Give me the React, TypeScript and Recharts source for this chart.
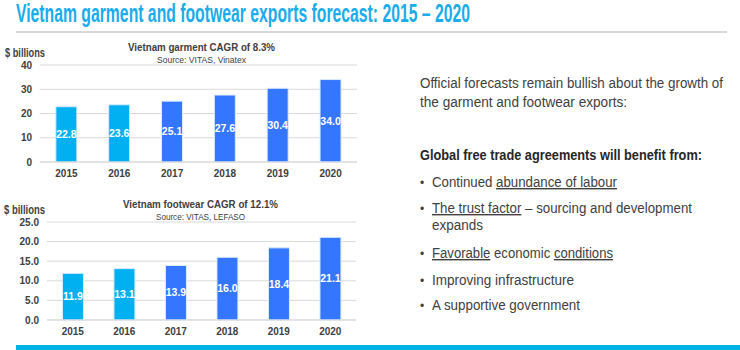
import React from "react";
import { Bar, BarChart, CartesianGrid, Cell, LabelList, XAxis, YAxis } from "recharts";

const years = ["2015", "2016", "2017", "2018", "2019", "2020"];
const garmentValues = [22.8, 23.6, 25.1, 27.6, 30.4, 34.0];
const footwearValues = [11.9, 13.1, 13.9, 16.0, 18.4, 21.1];
const garmentTicks = [0, 10, 20, 30, 40];
const footwearTicks = [0, 5, 10, 15, 20, 25];
const actualYears = ["2015", "2016"];

const CYAN = "#00B0F0";
const BLUE = "#3476FF";
const TEXT = "#404040";
const FONT = "'Liberation Sans', Arial, sans-serif";

const garmentData = years.map((year, i) => ({ year, value: garmentValues[i] }));
const footwearData = years.map((year, i) => ({ year, value: footwearValues[i] }));

const tickStyle = { fontSize: 10, fontWeight: 700, fill: TEXT, fontFamily: FONT };

function ExportChart({ data, ticks, top, height, margin, yWidth, decimals }) {
  const max = ticks[ticks.length - 1];
  return (
    <div style={{ position: "absolute", left: 0, top }}>
      <BarChart width={380} height={height} data={data} margin={margin} barCategoryGap="30%">
        <CartesianGrid vertical={false} stroke="#D9D9D9" />
        <XAxis dataKey="year" axisLine={{ stroke: "#D9D9D9" }} tickLine={false} tick={tickStyle} height={30} />
        <YAxis
          domain={[0, max]}
          ticks={ticks}
          width={yWidth}
          axisLine={false}
          tickLine={false}
          tick={tickStyle}
          tickFormatter={(v) => v.toFixed(decimals)}
          interval={0}
        />
        <Bar dataKey="value" isAnimationActive={false} stroke="#DDEBFF" strokeWidth={1}>
          {data.map((d) => (
            <Cell key={d.year} fill={actualYears.includes(d.year) ? CYAN : BLUE} />
          ))}
          <LabelList
            dataKey="value"
            position="center"
            formatter={(v) => v.toFixed(1)}
            style={{ fill: "#FFFFFF", fontSize: 10.5, fontWeight: 700, fontFamily: FONT }}
          />
        </Bar>
      </BarChart>
    </div>
  );
}

const bullets = [
  { y: 187, parts: [["Continued ", false], ["abundance of labour", true]], len: 185 },
  { y: 213, parts: [["The trust factor", true], [" \u2013 sourcing and development", false]], len: 260 },
  { y: 230, parts: [["expands", false]], len: 51, noBullet: true },
  { y: 258, parts: [["Favorable", true], [" economic ", false], ["conditions", true]], len: 181 },
  { y: 285, parts: [["Improving infrastructure", false]], len: 142 },
  { y: 310, parts: [["A supportive government", false]], len: 148 },
];

export default function App() {
  return (
    <div style={{ position: "absolute", left: 0, top: 0, width: 740, height: 350, background: "#FFFFFF", overflow: "hidden" }}>
      <ExportChart
        data={garmentData}
        ticks={garmentTicks}
        top={0}
        height={200}
        margin={{ top: 65, right: 23, left: 0, bottom: 8 }}
        yWidth={40}
        decimals={0}
      />
      <ExportChart
        data={footwearData}
        ticks={footwearTicks}
        top={150}
        height={200}
        margin={{ top: 72, right: 24, left: 0, bottom: 0 }}
        yWidth={47}
        decimals={1}
      />
      <svg width={740} height={350} style={{ position: "absolute", left: 0, top: 0, pointerEvents: "none" }}>
        <text x={16} y={22} fontFamily={FONT} fontWeight={700} fontSize={25} fill="#1AACEB" textLength={454} lengthAdjust="spacingAndGlyphs">
          Vietnam garment and footwear exports forecast: 2015 – 2020
        </text>
        <line x1={16} x2={727} y1={32} y2={32} stroke="#C9CDD1" strokeWidth={1.5} />

        <text x={5} y={57} fontFamily={FONT} fontWeight={700} fontSize={12} fill={TEXT} textLength={40} lengthAdjust="spacingAndGlyphs">$ billions</text>
        <text x={128} y={51} fontFamily={FONT} fontWeight={700} fontSize={10.5} fill={TEXT} textLength={147} lengthAdjust="spacingAndGlyphs">Vietnam garment CAGR of 8.3%</text>
        <text x={157} y={63} fontFamily={FONT} fontSize={9} fill={TEXT} textLength={89} lengthAdjust="spacingAndGlyphs">Source:  VITAS, Vinatex</text>

        <text x={4} y={214} fontFamily={FONT} fontWeight={700} fontSize={12} fill={TEXT} textLength={41} lengthAdjust="spacingAndGlyphs">$ billions</text>
        <text x={123} y={208} fontFamily={FONT} fontWeight={700} fontSize={10.5} fill={TEXT} textLength={155} lengthAdjust="spacingAndGlyphs">Vietnam footwear CAGR of 12.1%</text>
        <text x={156} y={220} fontFamily={FONT} fontSize={9} fill={TEXT} textLength={89} lengthAdjust="spacingAndGlyphs">Source:  VITAS, LEFASO</text>

        <text x={420} y={88} fontFamily={FONT} fontSize={14} fill={TEXT} textLength={303} lengthAdjust="spacingAndGlyphs">Official forecasts remain bullish about the growth of</text>
        <text x={420} y={107} fontFamily={FONT} fontSize={14} fill={TEXT} textLength={207} lengthAdjust="spacingAndGlyphs">the garment and footwear exports:</text>
        <text x={420} y={160} fontFamily={FONT} fontWeight={700} fontSize={14} fill="#262626" textLength={282} lengthAdjust="spacingAndGlyphs">Global free trade agreements will benefit from:</text>

        {bullets.map((b, i) => (
          <g key={i}>
            {!b.noBullet && <text x={420} y={b.y} fontFamily={FONT} fontSize={12} fill={TEXT}>•</text>}
            <text x={432} y={b.y} fontFamily={FONT} fontSize={14} fill={TEXT} textLength={b.len} lengthAdjust="spacingAndGlyphs">
              {b.parts.map(([t, u], j) => (
                <tspan key={j} style={{ textDecoration: u ? "underline" : "none", whiteSpace: "pre" }}>{t}</tspan>
              ))}
            </text>
          </g>
        ))}

        <rect x={16} y={345} width={724} height={5} fill="#00B4E6" />
      </svg>
    </div>
  );
}
